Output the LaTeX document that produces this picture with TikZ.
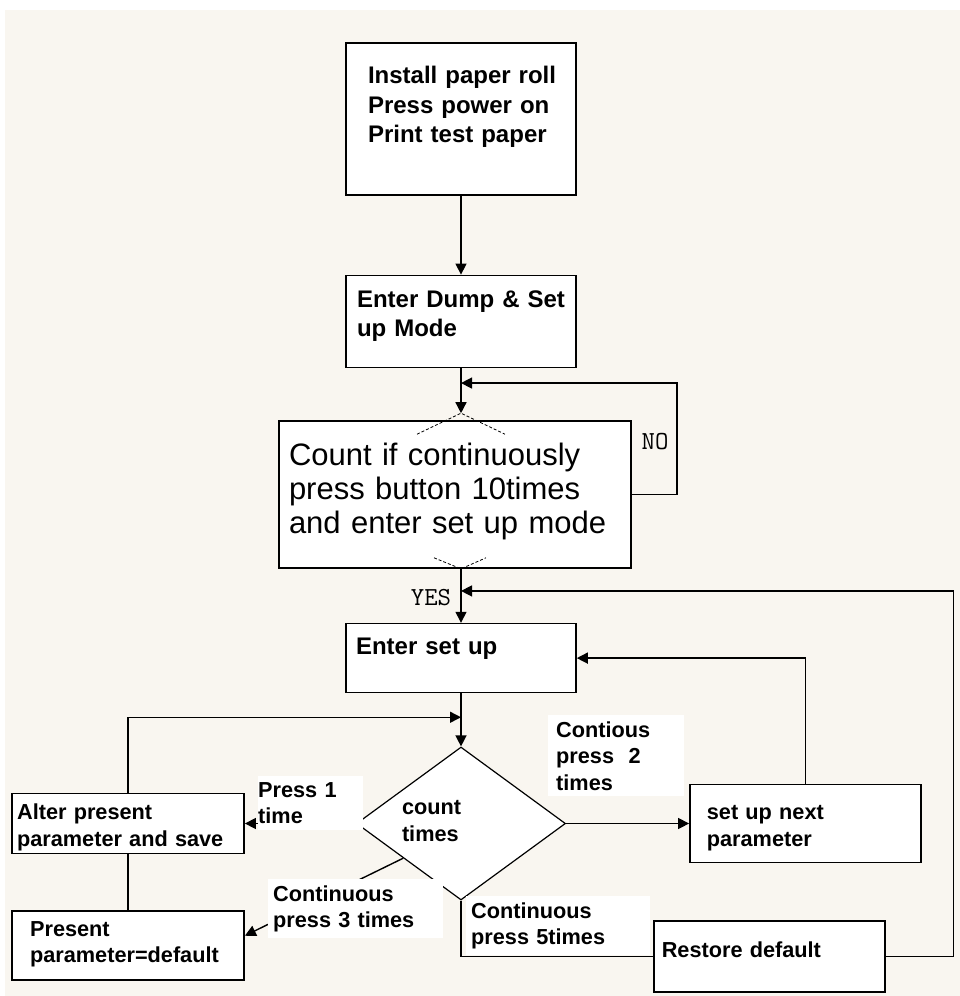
\documentclass[tikz,border=0pt]{standalone}
\usepackage{xcolor}
\usepackage{fontspec}
\setmainfont{Liberation Sans}
\usetikzlibrary{shapes.geometric, arrows.meta, positioning, calc}

\definecolor{paper}{RGB}{249,246,240}

\newcommand\boxfont{\bfseries\fontsize{24}{29.5}\selectfont}
\newcommand\lblfont{\bfseries\fontsize{21.7}{26.5}\selectfont}
\newcommand\cntfont{\fontsize{31}{34}\selectfont}
\newcommand\ynfont{\ttfamily\fontsize{26}{26}\selectfont}

\tikzset{
  block/.style = {
    rectangle, draw=black, line width=1.6pt, fill=white,
    align=left, inner ysep=0pt
  },
  decision/.style = {
    diamond, draw=black, line width=1.2pt, fill=white,
    align=left, inner sep=0pt, aspect=1.4
  },
  lbl/.style   = {fill=white, align=left, font=\lblfont, inner ysep=6pt},
  yesno/.style = {font=\ynfont},
  arr/.style   = {-{Triangle[length=11pt,width=11pt]}, line width=1.4pt},
  link/.style  = {line width=1.4pt},
  ghost/.style = {densely dashed, line width=0.8pt}
}

\begin{document}
\begin{tikzpicture}[x=1pt, y=-1pt]

\fill[paper] (5,10) rectangle (960,996);
\useasboundingbox (0,0) rectangle (960,996);

%% ── Main column ──────────────────────────────────────
\node[block, font=\boxfont, minimum width=230pt, text width=186pt,
      inner xsep=22pt, text height=41pt, text depth=111pt, anchor=north]
  (init) at (461,42)
  {\mbox{Install paper roll}\\Press power on\\Print test paper};

\node[block, font=\boxfont, minimum width=230pt, text width=208pt,
      inner xsep=11pt, text height=32pt, text depth=60pt,
      below=79pt of init]
  (dump) {\mbox{Enter Dump \& Set}\\up Mode};

\node[block, font=\cntfont, minimum width=352pt, text width=332pt,
      inner xsep=10pt, text height=44pt, text depth=103pt,
      below=52pt of dump, xshift=-6pt]
  (cnt) {Count if continuously\\press button 10times\\and enter set up mode};

\node[block, font=\boxfont, minimum width=230pt, text width=210pt,
      inner xsep=10pt, text height=31pt, text depth=38pt,
      below=54pt of cnt, xshift=6pt]
  (setup) {Enter set up};

\node[decision, font=\lblfont, text width=118pt, text height=20pt,
      text depth=38pt, minimum width=209pt, minimum height=153pt,
      below=53pt of setup]
  (dia) {count\\times};

%% ── Side boxes ───────────────────────────────────────
\node[block, font=\lblfont, text width=197pt, inner xsep=17pt,
      text height=35pt, text depth=43pt, right=123pt of dia]
  (next) {set up next\\parameter};

\node[block, font=\lblfont, text width=222pt, inner xsep=5pt,
      text height=26pt, text depth=34pt, left=111pt of dia]
  (alter) {Alter present\\parameter and save};

\node[block, font=\lblfont, text width=196pt, inner xsep=18pt,
      text height=25pt, text depth=44pt, below=56pt of alter]
  (present) {Present\\parameter=default};

\node[block, font=\lblfont, text width=215pt, inner xsep=8pt,
      text height=37pt, text depth=34pt, anchor=north west]
  (restore) at (653,920) {Restore default};

%% ── Helper points ────────────────────────────────────
\coordinate (cntTop) at (dump.south |- cnt.north);
\coordinate (cntTip) at ($(cntTop)+(0,-7)$);
\coordinate (cntBot) at (dump.south |- cnt.south);
\coordinate (nojoin) at ($(dump.south)!0.33!(cntTip)$);
\coordinate (yesjoin) at ($(cntBot)!0.41!(setup.north)$);
\coordinate (alterjoin) at ($(setup.south)!0.45!(dia.north)$);
\coordinate (c3src) at ($(dia.west)!0.45!(dia.south)$);
\coordinate (c3dst) at ($(present.north east)!0.36!(present.south east)$);

%% ── Hidden diamond edges ─────────────────────────────
\draw[ghost] ($(cntTip)+(-44,21)$) -- (cntTip) -- ($(cntTip)+(44,21)$);
\draw[ghost] ($(cntBot)+(-27,-11)$) -- (cntBot) -- ($(cntBot)+(25,-11)$);

%% ── Arrows ───────────────────────────────────────────
\draw[arr] (init) -- (dump);
\draw[arr] (dump) -- (cntTip);
\draw[arr] (cnt.east) -- ++(45,0) |- (nojoin);
\draw[arr] (cntBot) -- (setup);
\draw[arr] (restore.east) -- ++(68,0) |- (yesjoin);
\draw[arr] (next.north) |- (setup.east);
\draw[arr] (setup) -- (dia);
\draw[arr] (alter.north) |- (alterjoin);
\draw[arr] (dia.east) -- (next.west);
\draw[arr] (dia.west) -- (alter.east);
\draw[arr] (c3src) -- (c3dst);
\draw[link] (alter) -- (present);
\draw[link] (dia.south) |- (restore.west);

%% ── Labels ───────────────────────────────────────────
\node[yesno] (no) at (655,442) {NO};
\node[yesno] (yes) at (431,598) {YES};
\node[lbl, text width=105pt, inner xsep=0pt, anchor=base west]
  (p1) at (258,797) {Press 1\\time};
\node[lbl, text width=120pt, inner xsep=8pt, anchor=base west]
  (p2) at (548,737) {Contious\\press\ \ 2\\times};
\node[lbl, text width=165pt, inner xsep=5pt, anchor=base west]
  (p3) at (268,901) {Continuous\\press 3 times};
\node[lbl, text width=174pt, inner xsep=5pt, anchor=base west]
  (p5) at (466,918) {Continuous\\press 5times};

\end{tikzpicture}
\end{document}
